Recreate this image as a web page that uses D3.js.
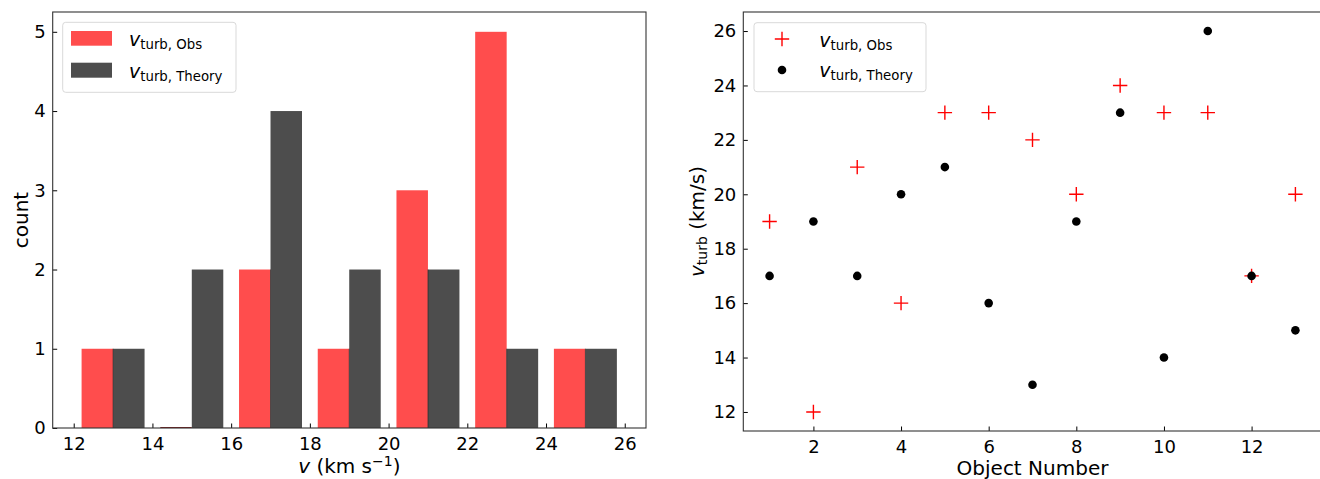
<!DOCTYPE html>
<html><head><meta charset="utf-8">
<script src="https://cdn.jsdelivr.net/npm/d3@7"></script>
<style>
html,body{margin:0;padding:0;background:#fff;}
svg{display:block;font-family:"DejaVu Sans",sans-serif;}
</style></head>
<body>
<script>
// ---------- data ----------
const binEdges = [12, 14, 16, 18, 20, 22, 24, 26];
const obsCounts = [1, 0, 2, 1, 3, 5, 1];
const theoryCounts = [1, 2, 4, 2, 2, 1, 1];
const histXTicks = [12, 14, 16, 18, 20, 22, 24, 26];
const histYTicks = [0, 1, 2, 3, 4, 5];

const objectNumbers = [1, 2, 3, 4, 5, 6, 7, 8, 9, 10, 11, 12, 13];
const vObs = [19, 12, 21, 16, 23, 23, 22, 20, 24, 23, 23, 17, 20];
const vTheory = [17, 19, 17, 20, 21, 16, 13, 19, 23, 14, 26, 17, 15];
const scatXTicks = [2, 4, 6, 8, 10, 12];
const scatYTicks = [12, 14, 16, 18, 20, 22, 24, 26];

const seriesNames = ["turb, Obs", "turb, Theory"];

// ---------- setup ----------
const W = 1320, H = 479;
const svg = d3.select("body").append("svg").attr("width", W).attr("height", H);
const RED = "#ff4d4d", DARK = "#4d4d4d";
const TICK_FS = 18, LABEL_FS = 20;

function styleAxis(g) {
  g.selectAll(".domain").remove();
  g.selectAll(".tick line").attr("stroke", "#000").attr("stroke-width", 1);
  g.selectAll(".tick text").attr("font-size", TICK_FS).attr("fill", "#000")
    .attr("font-family", "DejaVu Sans");
}

function frame(x0, x1, y0, y1) {
  svg.append("rect").attr("x", x0).attr("y", y0).attr("width", x1 - x0).attr("height", y1 - y0)
    .attr("fill", "none").attr("stroke", "#333").attr("stroke-width", 1.1);
}

function mathLabel(g, x, y, sub, fs) {
  const t = g.append("text").attr("x", x).attr("y", y).attr("font-size", fs).attr("fill", "#000");
  t.append("tspan").attr("font-style", "italic").text("v");
  t.append("tspan").attr("font-size", fs * 0.7).attr("dy", 3).text(sub);
  return t;
}

// ---------- left: histogram ----------
{
  const L = 52.7, R = 646, T = 12, B = 428;
  const x = d3.scaleLinear().domain([11.466, 26.54]).range([L, R]);
  const y = d3.scaleLinear().domain([0, 5.25]).range([B, T]);
  const g = svg.append("g");
  const bins = obsCounts.map((c, i) => ({x0: binEdges[i], x1: binEdges[i + 1], obs: c, th: theoryCounts[i]}));
  const at = (d, f) => x(d.x0 + (d.x1 - d.x0) * f);
  g.selectAll(".ob").data(bins).join("rect")
    .attr("x", d => at(d, 0.1)).attr("width", d => at(d, 0.5) - at(d, 0.1))
    .attr("y", d => y(d.obs)).attr("height", d => y(0) - y(d.obs))
    .attr("fill", RED);
  g.selectAll(".obz").data(bins.filter(d => d.obs === 0)).join("line")
    .attr("x1", d => at(d, 0.1)).attr("x2", d => at(d, 0.5))
    .attr("y1", y(0) - 0.5).attr("y2", y(0) - 0.5).attr("stroke", "#8b1a1a").attr("stroke-width", 1);
  g.selectAll(".th").data(bins).join("rect")
    .attr("x", d => at(d, 0.5)).attr("width", d => at(d, 0.9) - at(d, 0.5))
    .attr("y", d => y(d.th)).attr("height", d => y(0) - y(d.th))
    .attr("fill", DARK);
  // thin seam between adjacent bars
  g.selectAll(".seam").data(bins.filter(d => d.obs > 0 && d.th > 0)).join("line")
    .attr("x1", d => at(d, 0.5)).attr("x2", d => at(d, 0.5))
    .attr("y1", d => y(Math.min(d.obs, d.th))).attr("y2", y(0))
    .attr("stroke", "#222").attr("stroke-width", 0.6);

  const ax = svg.append("g").attr("transform", `translate(0,${B})`)
    .call(d3.axisBottom(x).tickValues(histXTicks).tickSizeInner(-4.5).tickPadding(9).tickFormat(d3.format("d")));
  styleAxis(ax);
  const ay = svg.append("g").attr("transform", `translate(${L},0)`)
    .call(d3.axisLeft(y).tickValues(histYTicks).tickSizeInner(-4.5).tickPadding(7).tickFormat(d3.format("d")));
  styleAxis(ay);
  frame(L, R, T, B);

  const xl = svg.append("text").attr("x", (L + R) / 2).attr("y", 473).attr("text-anchor", "middle")
    .attr("font-size", LABEL_FS).attr("fill", "#000");
  xl.append("tspan").attr("font-style", "italic").text("v");
  xl.append("tspan").text(" (km s");
  xl.append("tspan").attr("font-size", LABEL_FS * 0.7).attr("dy", -7).text("\u22121");
  xl.append("tspan").attr("dy", 7).text(")");
  svg.append("text").attr("transform", `translate(28,${(T + B) / 2}) rotate(-90)`)
    .attr("text-anchor", "middle").attr("font-size", LABEL_FS).attr("fill", "#000").text("count");

  const lg = svg.append("g");
  lg.append("rect").attr("x", 62.7).attr("y", 22.3).attr("width", 173.3).attr("height", 70)
    .attr("rx", 3).attr("fill", "#fff").attr("fill-opacity", 0.8).attr("stroke", "#d9d9d9");
  lg.append("rect").attr("x", 71).attr("y", 31).attr("width", 41).attr("height", 14.7).attr("fill", RED);
  lg.append("rect").attr("x", 71).attr("y", 62.7).attr("width", 41).attr("height", 15).attr("fill", DARK);
  mathLabel(lg, 129, 45.7, seriesNames[0], 19);
  mathLabel(lg, 129, 77.7, seriesNames[1], 19);
}

// ---------- right: scatter ----------
{
  const L = 743.3, R = 1321.7, T = 12, B = 431;
  const x = d3.scaleLinear().domain([0.4, 13.6]).range([L, R]);
  const y = d3.scaleLinear().domain([11.3, 26.7]).range([B, T]);
  const g = svg.append("g");
  const pts = objectNumbers.map((n, i) => ({n, o: vObs[i], t: vTheory[i]}));
  const half = 7.2;
  g.selectAll(".p").data(pts).join("path")
    .attr("d", d => `M${x(d.n) - half},${y(d.o)}H${x(d.n) + half}M${x(d.n)},${y(d.o) - half}V${y(d.o) + half}`)
    .attr("stroke", "#ff0000").attr("stroke-width", 1.4).attr("fill", "none");
  g.selectAll(".c").data(pts).join("circle")
    .attr("cx", d => x(d.n)).attr("cy", d => y(d.t)).attr("r", 4.3).attr("fill", "#000");

  const ax = svg.append("g").attr("transform", `translate(0,${B})`)
    .call(d3.axisBottom(x).tickValues(scatXTicks).tickSizeInner(-4.5).tickPadding(9).tickFormat(d3.format("d")));
  styleAxis(ax);
  const ay = svg.append("g").attr("transform", `translate(${L},0)`)
    .call(d3.axisLeft(y).tickValues(scatYTicks).tickSizeInner(-4.5).tickPadding(7).tickFormat(d3.format("d")));
  styleAxis(ay);
  frame(L, R, T, B);

  svg.append("text").attr("x", (L + R) / 2).attr("y", 475).attr("text-anchor", "middle")
    .attr("font-size", LABEL_FS).attr("fill", "#000").text("Object Number");
  const yl = svg.append("text").attr("transform", `translate(704,${(T + B) / 2}) rotate(-90)`)
    .attr("text-anchor", "middle").attr("font-size", LABEL_FS).attr("fill", "#000");
  yl.append("tspan").attr("font-style", "italic").text("v");
  yl.append("tspan").attr("font-size", LABEL_FS * 0.7).attr("dy", 3).text("turb");
  yl.append("tspan").attr("dy", -3).text(" (km/s)");

  const lg = svg.append("g");
  lg.append("rect").attr("x", 754).attr("y", 22.7).attr("width", 172).attr("height", 69)
    .attr("rx", 3).attr("fill", "#fff").attr("fill-opacity", 0.8).attr("stroke", "#d9d9d9");
  lg.append("path").attr("d", `M${782 - half},39H${782 + half}M782,${39 - half}V${39 + half}`)
    .attr("stroke", "#ff0000").attr("stroke-width", 1.4);
  lg.append("circle").attr("cx", 782).attr("cy", 70).attr("r", 4.3).attr("fill", "#000");
  mathLabel(lg, 819.3, 46.7, seriesNames[0], 19);
  mathLabel(lg, 819.3, 77.3, seriesNames[1], 19);
}
</script>
</body></html>
